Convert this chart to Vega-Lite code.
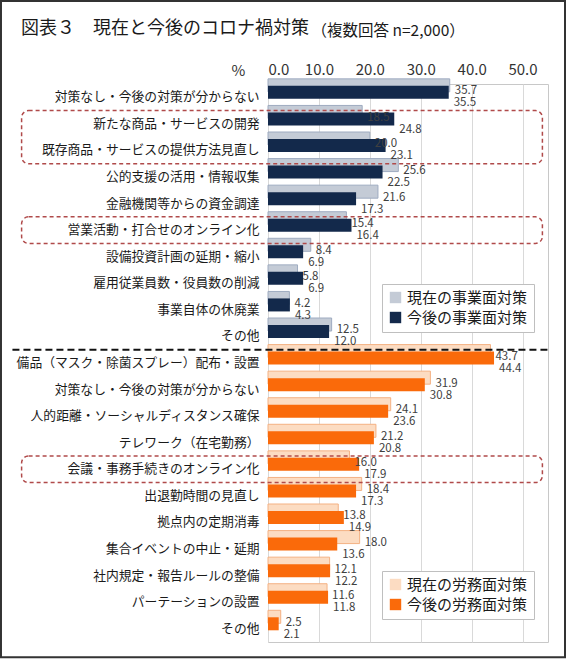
{
  "$schema": "https://vega.github.io/schema/vega-lite/v6.json",
  "width": 280,
  "height": 558,
  "autosize": {"type": "none"},
  "padding": {"left": 268, "top": 84, "right": 19, "bottom": 19},
  "background": "white",
  "title": {
    "text": "図表３　現在と今後のコロナ禍対策",
    "anchor": "start",
    "frame": "bounds",
    "dx": 21,
    "offset": -38,
    "fontSize": 18,
    "fontWeight": "normal",
    "color": "#1a1a1a"
  },
  "config": {
    "font": "Noto Sans CJK JP",
    "view": {"stroke": "#c8c8c8"}
  },
  "datasets": {
    "bars": [
      {"k": "01|対策なし・今後の対策が分からない", "g": "事業面", "t": "現在", "s": "現在の事業面対策", "v": 35.7},
      {"k": "02|新たな商品・サービスの開発", "g": "事業面", "t": "現在", "s": "現在の事業面対策", "v": 18.5},
      {"k": "03|既存商品・サービスの提供方法見直し", "g": "事業面", "t": "現在", "s": "現在の事業面対策", "v": 20.0},
      {"k": "04|公的支援の活用・情報収集", "g": "事業面", "t": "現在", "s": "現在の事業面対策", "v": 25.6},
      {"k": "05|金融機関等からの資金調達", "g": "事業面", "t": "現在", "s": "現在の事業面対策", "v": 21.6},
      {"k": "06|営業活動・打合せのオンライン化", "g": "事業面", "t": "現在", "s": "現在の事業面対策", "v": 15.4},
      {"k": "07|設備投資計画の延期・縮小", "g": "事業面", "t": "現在", "s": "現在の事業面対策", "v": 8.4},
      {"k": "08|雇用従業員数・役員数の削減", "g": "事業面", "t": "現在", "s": "現在の事業面対策", "v": 5.8},
      {"k": "09|事業自体の休廃業", "g": "事業面", "t": "現在", "s": "現在の事業面対策", "v": 4.2},
      {"k": "10|その他", "g": "事業面", "t": "現在", "s": "現在の事業面対策", "v": 12.5},
      {"k": "01|対策なし・今後の対策が分からない", "g": "事業面", "t": "今後", "s": "今後の事業面対策", "v": 35.5},
      {"k": "02|新たな商品・サービスの開発", "g": "事業面", "t": "今後", "s": "今後の事業面対策", "v": 24.8},
      {"k": "03|既存商品・サービスの提供方法見直し", "g": "事業面", "t": "今後", "s": "今後の事業面対策", "v": 23.1},
      {"k": "04|公的支援の活用・情報収集", "g": "事業面", "t": "今後", "s": "今後の事業面対策", "v": 22.5},
      {"k": "05|金融機関等からの資金調達", "g": "事業面", "t": "今後", "s": "今後の事業面対策", "v": 17.3},
      {"k": "06|営業活動・打合せのオンライン化", "g": "事業面", "t": "今後", "s": "今後の事業面対策", "v": 16.4},
      {"k": "07|設備投資計画の延期・縮小", "g": "事業面", "t": "今後", "s": "今後の事業面対策", "v": 6.9},
      {"k": "08|雇用従業員数・役員数の削減", "g": "事業面", "t": "今後", "s": "今後の事業面対策", "v": 6.9},
      {"k": "09|事業自体の休廃業", "g": "事業面", "t": "今後", "s": "今後の事業面対策", "v": 4.3},
      {"k": "10|その他", "g": "事業面", "t": "今後", "s": "今後の事業面対策", "v": 12.0},
      {"k": "11|備品（マスク・除菌スプレー）配布・設置", "g": "労務面", "t": "現在", "s": "現在の労務面対策", "v": 43.7},
      {"k": "12|対策なし・今後の対策が分からない", "g": "労務面", "t": "現在", "s": "現在の労務面対策", "v": 31.9},
      {"k": "13|人的距離・ソーシャルディスタンス確保", "g": "労務面", "t": "現在", "s": "現在の労務面対策", "v": 24.1},
      {"k": "14|テレワーク（在宅勤務）", "g": "労務面", "t": "現在", "s": "現在の労務面対策", "v": 21.2},
      {"k": "15|会議・事務手続きのオンライン化", "g": "労務面", "t": "現在", "s": "現在の労務面対策", "v": 16.0},
      {"k": "16|出退勤時間の見直し", "g": "労務面", "t": "現在", "s": "現在の労務面対策", "v": 18.4},
      {"k": "17|拠点内の定期消毒", "g": "労務面", "t": "現在", "s": "現在の労務面対策", "v": 13.8},
      {"k": "18|集合イベントの中止・延期", "g": "労務面", "t": "現在", "s": "現在の労務面対策", "v": 18.0},
      {"k": "19|社内規定・報告ルールの整備", "g": "労務面", "t": "現在", "s": "現在の労務面対策", "v": 12.1},
      {"k": "20|パーテーションの設置", "g": "労務面", "t": "現在", "s": "現在の労務面対策", "v": 11.6},
      {"k": "21|その他", "g": "労務面", "t": "現在", "s": "現在の労務面対策", "v": 2.5},
      {"k": "11|備品（マスク・除菌スプレー）配布・設置", "g": "労務面", "t": "今後", "s": "今後の労務面対策", "v": 44.4},
      {"k": "12|対策なし・今後の対策が分からない", "g": "労務面", "t": "今後", "s": "今後の労務面対策", "v": 30.8},
      {"k": "13|人的距離・ソーシャルディスタンス確保", "g": "労務面", "t": "今後", "s": "今後の労務面対策", "v": 23.6},
      {"k": "14|テレワーク（在宅勤務）", "g": "労務面", "t": "今後", "s": "今後の労務面対策", "v": 20.8},
      {"k": "15|会議・事務手続きのオンライン化", "g": "労務面", "t": "今後", "s": "今後の労務面対策", "v": 17.9},
      {"k": "16|出退勤時間の見直し", "g": "労務面", "t": "今後", "s": "今後の労務面対策", "v": 17.3},
      {"k": "17|拠点内の定期消毒", "g": "労務面", "t": "今後", "s": "今後の労務面対策", "v": 14.9},
      {"k": "18|集合イベントの中止・延期", "g": "労務面", "t": "今後", "s": "今後の労務面対策", "v": 13.6},
      {"k": "19|社内規定・報告ルールの整備", "g": "労務面", "t": "今後", "s": "今後の労務面対策", "v": 12.2},
      {"k": "20|パーテーションの設置", "g": "労務面", "t": "今後", "s": "今後の労務面対策", "v": 11.8},
      {"k": "21|その他", "g": "労務面", "t": "今後", "s": "今後の労務面対策", "v": 2.1}
    ],
    "boxes": [
      {"a": "02|新たな商品・サービスの開発", "b": "03|既存商品・サービスの提供方法見直し"},
      {"a": "06|営業活動・打合せのオンライン化", "b": "06|営業活動・打合せのオンライン化"},
      {"a": "15|会議・事務手続きのオンライン化", "b": "15|会議・事務手続きのオンライン化"}
    ]
  },
  "encoding": {
    "y": {
      "field": "k",
      "type": "nominal",
      "scale": {"paddingInner": 0, "paddingOuter": 0},
      "axis": {
        "title": "（複数回答 n=2,000）",
        "titleAngle": 0,
        "titleAlign": "left",
        "titleBaseline": "middle",
        "titleX": 43,
        "titleY": -54,
        "titleFontSize": 15.5,
        "titleFontWeight": "normal",
        "titleColor": "#1a1a1a",
        "labelExpr": "split(datum.label, '|')[1]",
        "labelFontSize": 12.8,
        "labelColor": "#1a1a1a",
        "labelPadding": 9,
        "ticks": false,
        "domain": false,
        "labelLimit": 400
      }
    }
  },
  "layer": [
    {
      "data": {"values": [{"a": "01|対策なし・今後の対策が分からない", "b": "21|その他"}]},
      "mark": {"type": "rect", "fill": null, "stroke": "#333333", "strokeWidth": 2},
      "encoding": {
        "y": {"field": "a", "type": "nominal", "bandPosition": -3.12},
        "y2": {"field": "b", "bandPosition": 1.57},
        "x": {"datum": -52.45, "type": "quantitative"},
        "x2": {"datum": 58.34}
      }
    },
    {
      "data": {"name": "bars"},
      "transform": [{"filter": "datum.g === '事業面'"}],
      "mark": {"type": "bar", "height": {"band": 1.86}},
      "encoding": {
        "x": {
          "field": "v",
          "type": "quantitative",
          "stack": null,
          "scale": {"domain": [0, 55], "nice": false},
          "axis": {
            "orient": "top",
            "values": [0, 10, 20, 30, 40, 50],
            "format": ".1f",
            "labelFontSize": 15,
            "labelColor": "#333333",
            "labelPadding": 7,
            "ticks": false,
            "domain": false,
            "grid": true,
            "gridColor": "#d9d9d9",
            "title": "%",
            "titleFontSize": 15,
            "titleFontWeight": "normal",
            "titleColor": "#333333",
            "titleAngle": 0,
            "titleAlign": "center",
            "titleBaseline": "middle",
            "titleX": -30,
            "titleY": -14
          }
        },
        "yOffset": {
          "field": "t",
          "type": "nominal",
          "sort": ["現在", "今後"],
          "scale": {"paddingInner": 0, "paddingOuter": 0.9}
        },
        "color": {
          "field": "s",
          "type": "nominal",
          "scale": {"domain": ["現在の事業面対策", "今後の事業面対策"], "range": ["#c4cbd6", "#13294b"]},
          "legend": {
            "orient": "none",
            "legendX": 114,
            "legendY": 200,
            "title": null,
            "symbolType": "square",
            "symbolSize": 130,
            "labelFontSize": 15,
            "labelColor": "#1a1a1a",
            "rowPadding": 4,
            "padding": 6,
            "strokeColor": "#bfbfbf",
            "fillColor": "white",
            "labelLimit": 300
          }
        },
        "stroke": {"condition": {"test": "datum.t === '現在'", "value": "#9eabc0"}, "value": null}
      }
    },
    {
      "data": {"name": "bars"},
      "transform": [{"filter": "datum.g === '労務面'"}],
      "mark": {"type": "bar", "height": {"band": 1.86}},
      "encoding": {
        "x": {"field": "v", "type": "quantitative", "stack": null},
        "yOffset": {"field": "t", "type": "nominal", "sort": ["現在", "今後"]},
        "color": {
          "field": "s",
          "type": "nominal",
          "scale": {"domain": ["現在の労務面対策", "今後の労務面対策"], "range": ["#fcdcc2", "#fa6a0a"]},
          "legend": {
            "orient": "none",
            "legendX": 114,
            "legendY": 487,
            "title": null,
            "symbolType": "square",
            "symbolSize": 130,
            "labelFontSize": 15,
            "labelColor": "#1a1a1a",
            "rowPadding": 4,
            "padding": 6,
            "strokeColor": "#bfbfbf",
            "fillColor": "white",
            "labelLimit": 300
          }
        },
        "stroke": {"condition": {"test": "datum.t === '現在'", "value": "#f4b183"}, "value": null}
      }
    },
    {
      "data": {"name": "bars"},
      "transform": [{"filter": "datum.t === '現在'"}],
      "mark": {"type": "text", "align": "left", "baseline": "middle", "dx": 5, "dy": -2.5, "fontSize": 11.5, "color": "#404040"},
      "encoding": {
        "x": {"field": "v", "type": "quantitative"},
        "yOffset": {"field": "t", "type": "nominal", "sort": ["現在", "今後"]},
        "text": {"field": "v", "type": "quantitative", "format": ".1f"}
      }
    },
    {
      "data": {"name": "bars"},
      "transform": [{"filter": "datum.t === '今後'"}],
      "mark": {"type": "text", "align": "left", "baseline": "middle", "dx": 5, "dy": 2.5, "fontSize": 11.5, "color": "#404040"},
      "encoding": {
        "x": {"field": "v", "type": "quantitative"},
        "yOffset": {"field": "t", "type": "nominal", "sort": ["現在", "今後"]},
        "text": {"field": "v", "type": "quantitative", "format": ".1f"}
      }
    },
    {
      "data": {"name": "boxes"},
      "mark": {"type": "rect", "fill": null, "stroke": "#b04a4a", "strokeWidth": 1.5, "strokeDash": [4, 3], "cornerRadius": 7},
      "encoding": {
        "y": {"field": "a", "type": "nominal", "bandPosition": 0},
        "y2": {"field": "b", "bandPosition": 1},
        "x": {"datum": -48.4, "type": "quantitative"},
        "x2": {"datum": 53.9}
      }
    },
    {
      "data": {"values": [{"k": "11|備品（マスク・除菌スプレー）配布・設置"}]},
      "mark": {"type": "rule", "color": "#111111", "strokeWidth": 2, "strokeDash": [7, 4]},
      "encoding": {
        "y": {"field": "k", "type": "nominal", "bandPosition": 0},
        "x": {"datum": -50.2, "type": "quantitative"},
        "x2": {"datum": 55.1}
      }
    }
  ],
  "resolve": {"scale": {"color": "independent"}, "legend": {"color": "independent"}}
}
